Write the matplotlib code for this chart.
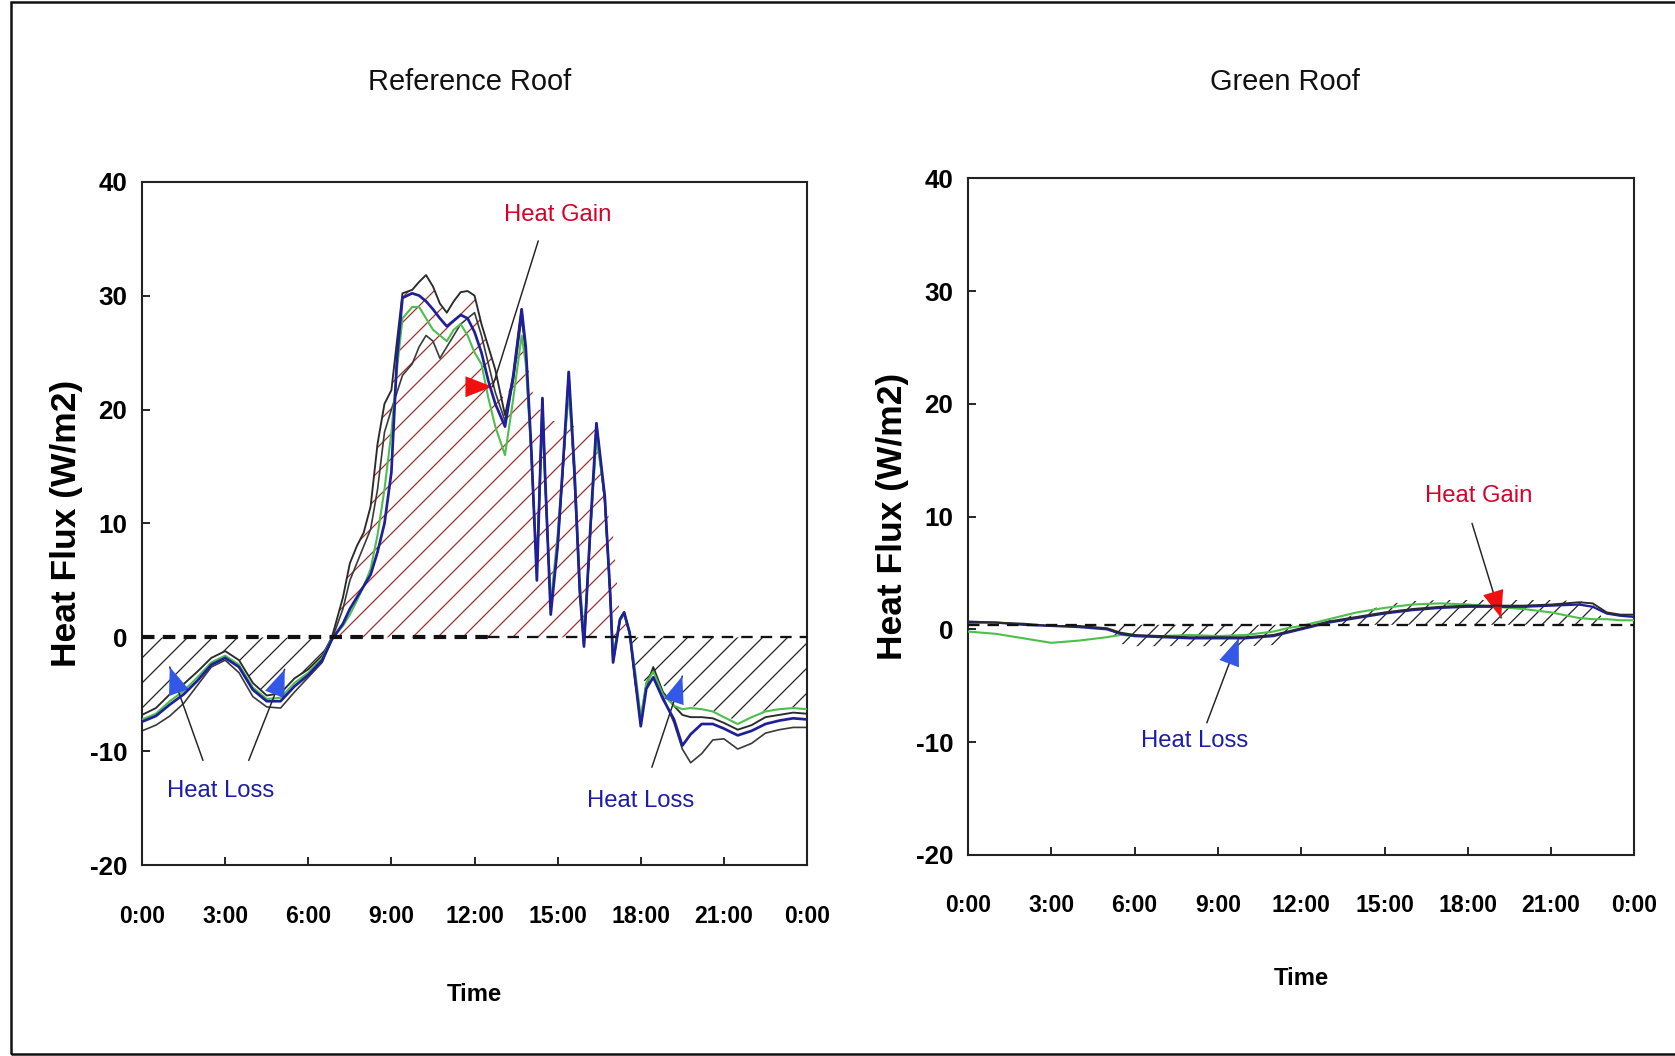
import numpy as np
import matplotlib
matplotlib.use('Agg')
import matplotlib.pyplot as plt
from matplotlib import font_manager
from matplotlib.patches import Rectangle

# ---- reference roof (left) ----
t_ref = [0, 0.5, 1, 1.5, 2, 2.5, 3, 3.5, 4, 4.5, 5, 5.5, 6, 6.5, 6.85,
         7.25, 7.5, 7.75, 8, 8.25, 8.5, 8.75, 9, 9.2, 9.4,
         9.75, 10, 10.25, 10.5, 10.75, 11, 11.25, 11.5, 11.75, 12,
         12.25, 12.5, 12.75, 13.1, 13.4, 13.7, 13.85, 14.05, 14.25, 14.45,
         14.55, 14.75, 15.0, 15.2, 15.4, 15.6, 15.8, 15.95, 16.2, 16.4,
         16.7, 16.9, 17.0, 17.25, 17.4, 17.6, 17.8, 18.0, 18.2, 18.45,
         18.8, 19.2, 19.5, 19.8, 20.2, 20.6, 21.0, 21.5, 22.0, 22.5,
         23.0, 23.5, 24]

ref_black_hi = [-6.8, -6.2, -5.0, -4.1, -3.0, -1.8, -1.2, -2.0, -4.0, -5.1, -4.9, -3.6, -2.8, -1.6, 0.0,
                3.5, 6.5, 8.0, 9.2, 11.5, 17.0, 20.5, 21.7, 26.0, 30.2,
                30.5, 31.2, 31.8, 30.8, 29.3, 28.5, 29.5, 30.3, 30.4, 30.0,
                27.5, 25.5, 23.5, 19.5, 23.0, 28.8, 25.0, 16.0, 6.0, 21.0,
                14.0, 2.5, 8.0, 15.0, 23.3, 14.0, 4.0, -0.8, 10.0, 18.8,
                12.0, 3.5, -2.2, 1.6, 2.2, 0.4, -3.7, -7.6, -4.3, -2.6,
                -4.8, -6.0, -6.8, -7.0, -7.0, -7.1, -7.5, -8.1, -7.7, -7.0,
                -6.8, -6.6, -6.7]

ref_blue = [-7.4, -6.9, -5.9, -5.0, -3.8, -2.4, -1.8, -2.6, -4.6, -5.6, -5.6, -4.3, -3.3, -2.0, -0.2,
            1.2, 2.5, 3.5, 4.5, 5.5, 7.5, 10.0, 14.5, 24.5, 29.8,
            30.2, 30.0, 29.5, 28.8, 28.0, 27.3, 27.8, 28.3, 28.0, 26.8,
            25.0, 22.5, 20.5, 18.5, 23.0, 28.8, 25.5, 16.5, 5.0, 21.0,
            14.0, 2.0, 8.0, 15.5, 23.3, 15.0, 4.0, -0.8, 10.5, 18.8,
            12.4, 3.6, -2.2, 1.6, 2.2, 0.4, -3.7, -7.8, -4.5, -3.5,
            -5.4, -7.2, -9.5, -8.5, -7.6, -7.6, -8.0, -8.6, -8.2, -7.6,
            -7.3, -7.1, -7.2]

ref_green = [-7.2, -6.7, -5.6, -4.7, -3.5, -2.2, -1.6, -2.4, -4.4, -5.4, -5.3, -4.0, -3.1, -1.8, -0.1,
             1.0, 2.0, 3.2, 4.5, 6.0, 9.0, 13.0, 18.0, 23.5, 28.0,
             29.0, 29.0, 28.0, 27.0, 26.5, 26.0, 27.0, 27.5, 26.5, 25.0,
             24.0, 21.0, 18.5, 16.0, 21.0, 26.5, 24.0, 16.0, 6.0, 19.5,
             13.5, 3.0, 9.0, 15.5, 21.5, 15.0, 5.0, 0.0, 10.0, 17.5,
             12.5, 4.0, -1.5, 1.5, 2.0, 0.5, -3.0, -7.0, -4.0, -3.0,
             -5.0, -6.0, -6.3, -6.2, -6.3, -6.5, -7.0, -7.6, -7.0, -6.5,
             -6.3, -6.2, -6.3]

ref_black_lo = [-8.2, -7.7, -6.9, -5.8, -4.2, -2.6, -2.0, -3.1, -5.2, -6.1, -6.2, -4.8, -3.5, -2.2, -0.2,
                2.5, 5.0, 6.5, 8.0, 9.5, 13.0, 18.0, 20.0, 21.5, 23.0,
                24.0, 25.5, 26.5, 26.0, 24.5, 25.5, 26.5, 27.5, 28.0, 28.5,
                26.5, 24.0, 21.5, 19.0, 22.5, 28.0, 25.0, 16.0, 5.5, 20.5,
                13.5, 2.5, 8.5, 15.0, 22.5, 14.5, 4.5, -0.5, 10.0, 18.0,
                12.0, 3.5, -2.0, 1.5, 2.0, 0.3, -4.0, -7.2, -4.0, -2.8,
                -5.2, -7.5, -9.8, -11.0, -10.2, -9.0, -8.9, -9.8, -9.3, -8.4,
                -8.1, -7.9, -7.9]

# extent of the hatched gain / loss areas
ref_shade = [-6.8, -6.2, -5.0, -4.1, -3.0, -1.8, -1.2, -2.0, -4.0, -5.1, -4.9, -3.6, -2.8, -1.6, 0.0,
             3.5, 6.5, 8.0, 9.2, 11.5, 17.0, 20.5, 21.7, 26.0, 30.2,
             30.5, 31.2, 31.8, 30.8, 29.3, 28.5, 29.5, 30.3, 30.4, 30.0,
             27.5, 25.5, 23.5, 20.5, 23.0, 27.0, 25.0, 22.0, 20.0, 20.0,
             19.5, 19.0, 19.0, 19.0, 19.0, 18.5, 18.0, 18.0, 18.0, 18.5,
             13.0, 9.5, 9.0, 1.6, 2.2, 0.4, -2.5, -3.5, -4.0, -2.6,
             -4.2, -5.0, -5.8, -6.0, -6.2, -6.4, -6.8, -7.4, -7.0, -6.4,
             -6.2, -6.1, -6.2]

# ---- green roof (right) ----
t_grn = [0, 1, 2, 3, 4, 5, 5.5, 6, 7, 8, 9, 10, 11, 11.5, 12, 12.5, 13, 14, 15, 16,
         17, 18, 19, 20, 21, 22, 22.5, 23, 23.5, 24]
grn_black = [0.7, 0.6, 0.5, 0.3, 0.3, 0.1, -0.3, -0.5, -0.6, -0.7, -0.7, -0.7, -0.5, -0.2, 0.1,
             0.4, 0.7, 1.1, 1.5, 1.8, 2.0, 2.1, 2.1, 2.1, 2.2, 2.4, 2.3, 1.5, 1.3, 1.3]
grn_blue = [0.6, 0.6, 0.4, 0.3, 0.2, 0.0, -0.4, -0.6, -0.7, -0.8, -0.8, -0.8, -0.6, -0.3, 0.0,
            0.3, 0.6, 1.0, 1.4, 1.7, 1.9, 2.0, 2.0, 2.0, 2.1, 2.2, 2.0, 1.4, 1.2, 1.1]
grn_green = [-0.2, -0.4, -0.8, -1.2, -1.0, -0.7, -0.5, -0.6, -0.6, -0.5, -0.6, -0.5, -0.2, 0.1, 0.3,
             0.6, 0.9, 1.5, 1.9, 2.2, 2.3, 2.2, 2.0, 1.8, 1.5, 1.0, 0.9, 0.9, 0.8, 0.8]
grn_shade = [0.4, 0.4, 0.4, 0.4, 0.4, 0.4, -1.3, -1.5, -1.5, -1.5, -1.5, -1.5, -1.4, -0.3, 0.4,
             0.5, 0.8, 1.3, 2.2, 2.5, 2.6, 2.6, 2.6, 2.6, 2.6, 2.5, 2.3, 0.4, 0.4, 0.4]

ref_zero = 0.0
grn_zero = 0.4
ref_zero_split = [0, 12.5, 24]

hour_ticks = [0, 3, 6, 9, 12, 15, 18, 21, 24]
hour_labels = ['0:00', '3:00', '6:00', '9:00', '12:00', '15:00', '18:00', '21:00', '0:00']
flux_ticks = [-20, -10, 0, 10, 20, 30, 40]

# annotations: (hour, flux)
ref_loss_tips = [(1.0, -2.6), (5.15, -2.8), (19.5, -3.4)]
ref_loss_tails = [(2.2, -10.8), (3.85, -10.8), (18.4, -11.4)]
ref_loss_text = [(2.85, -13.5), (18.0, -14.4)]
ref_gain_tip = (12.65, 22.0)
ref_gain_head_from = (11.6, 22.0)
ref_gain_tail = (14.3, 34.8)
ref_gain_text = (15.0, 37.1)

grn_loss_tip = (9.75, -0.8)
grn_loss_tail = (8.6, -8.3)
grn_loss_text = (8.15, -9.9)
grn_gain_tip = (19.2, 1.0)
grn_gain_tail = (18.15, 9.4)
grn_gain_text = (18.4, 11.8)

# ---- fonts ----
names = {f.name for f in font_manager.fontManager.ttflist}
if 'Liberation Sans Narrow' in names:
    cond, k = 'Liberation Sans Narrow', 1.0
else:
    cond, k = 'Liberation Sans', 0.82
plain = 'Liberation Sans' if 'Liberation Sans' in names else 'DejaVu Sans'

plt.rcParams['hatch.linewidth'] = 0.6

RED_TXT = '#d8002a'
BLUE_TXT = '#1c1ca8'
HEAD_BLUE = '#3358e8'
HEAD_RED = '#f01010'

fig = plt.figure(figsize=(1675 / 150, 1056 / 150), dpi=150)
ax1 = fig.add_axes([0.0848, 0.1806, 0.397, 0.6474])
ax2 = fig.add_axes([0.5779, 0.1906, 0.3979, 0.6404])


def setup(ax, title, tx, ty, ylx, xly):
    ax.set_xlim(0, 24)
    ax.set_ylim(-20, 40)
    ax.set_xticks(hour_ticks)
    ax.set_xticklabels(hour_labels, fontfamily=cond, fontsize=13.5 * k, fontweight='bold')
    ax.set_yticks(flux_ticks)
    ax.set_yticklabels([str(v) for v in flux_ticks], fontfamily=plain, fontsize=12.5,
                       fontweight='bold')
    ax.tick_params(direction='in', length=4, width=0.8, top=False, right=False)
    ax.tick_params(axis='x', pad=19)
    ax.tick_params(axis='y', pad=7)
    for s in ax.spines.values():
        s.set_linewidth(1.0)
        s.set_color('#222222')
    ax.set_ylabel('Heat Flux (W/m2)', fontfamily=plain, fontsize=17, fontweight='bold',
                  va='center')
    ax.yaxis.set_label_coords(ylx, 0.5)
    ax.set_xlabel('Time', fontfamily=cond, fontsize=14 * k, fontweight='bold', va='center')
    ax.xaxis.set_label_coords(0.5, xly)
    ax.text(tx, ty, title, transform=ax.transAxes, ha='center', va='center',
            fontfamily=cond, fontsize=17 * k, color='#111111')


def arrow(ax, tail, tip, head_color, head_from=None):
    ax.annotate('', xy=tip, xytext=tail,
                arrowprops=dict(arrowstyle='-', color='#222222', lw=0.7, shrinkA=0, shrinkB=0))
    ax.annotate('', xy=tip, xytext=head_from if head_from else tail,
                arrowprops=dict(arrowstyle='-|>,head_length=1.3,head_width=0.5',
                                color=head_color, lw=0, shrinkA=0, shrinkB=0))


# left panel
t = np.array(t_ref)
shade = np.array(ref_shade)
ax1.fill_between(t, ref_zero, shade, where=shade >= ref_zero, interpolate=True,
                 facecolor='none', edgecolor='#a23030', hatch='//', linewidth=0, zorder=1)
ax1.fill_between(t, ref_zero, shade, where=shade <= ref_zero, interpolate=True,
                 facecolor='none', edgecolor='#222222', hatch='//', linewidth=0, zorder=1)
ax1.plot(t, ref_black_lo, color='#3a3a3a', lw=0.8, zorder=2)
ax1.plot(t, ref_black_hi, color='#2a2a2a', lw=0.9, zorder=2)
ax1.plot(t, ref_green, color='#4cbf4c', lw=1.0, zorder=3)
ax1.plot(t, ref_blue, color='#1f1f9a', lw=1.3, zorder=4)
ax1.hlines(ref_zero, ref_zero_split[0], ref_zero_split[1], colors='#111111', lw=2.0,
           linestyles=(0, (3, 2)), zorder=5)
ax1.hlines(ref_zero, ref_zero_split[1], ref_zero_split[2], colors='#111111', lw=1.1,
           linestyles=(0, (5, 3.5)), zorder=5)

for tail, tip in zip(ref_loss_tails, ref_loss_tips):
    arrow(ax1, tail, tip, HEAD_BLUE)
arrow(ax1, ref_gain_tail, ref_gain_tip, HEAD_RED, ref_gain_head_from)
for pos in ref_loss_text:
    ax1.text(pos[0], pos[1], 'Heat Loss', ha='center', va='center', fontfamily=cond,
             fontsize=14 * k, color=BLUE_TXT)
ax1.text(ref_gain_text[0], ref_gain_text[1], 'Heat Gain', ha='center', va='center',
         fontfamily=cond, fontsize=14 * k, color=RED_TXT)
setup(ax1, 'Reference Roof', 0.493, 1.146, -0.114, -0.189)

# right panel
tg = np.array(t_grn)
gshade = np.array(grn_shade)
ax2.fill_between(tg, grn_zero, gshade, where=gshade >= grn_zero, interpolate=True,
                 facecolor='none', edgecolor='#222222', hatch='///', linewidth=0, zorder=1)
ax2.fill_between(tg, grn_zero, gshade, where=gshade <= grn_zero, interpolate=True,
                 facecolor='none', edgecolor='#222222', hatch='///', linewidth=0, zorder=1)
ax2.plot(tg, grn_green, color='#4cbf4c', lw=1.0, zorder=3)
ax2.plot(tg, grn_blue, color='#1f1f9a', lw=1.1, zorder=3)
ax2.plot(tg, grn_black, color='#2a2a2a', lw=0.9, zorder=4)
ax2.axhline(grn_zero, color='#111111', lw=1.1, ls=(0, (5, 3.5)), zorder=5)
arrow(ax2, grn_loss_tail, grn_loss_tip, HEAD_BLUE)
arrow(ax2, grn_gain_tail, grn_gain_tip, HEAD_RED)
ax2.text(grn_loss_text[0], grn_loss_text[1], 'Heat Loss', ha='center', va='center',
         fontfamily=cond, fontsize=14 * k, color=BLUE_TXT)
ax2.text(grn_gain_text[0], grn_gain_text[1], 'Heat Gain', ha='center', va='center',
         fontfamily=cond, fontsize=14 * k, color=RED_TXT)
setup(ax2, 'Green Roof', 0.476, 1.142, -0.114, -0.183)

# outer frame of the picture
fig.add_artist(Rectangle((0.0066, 0.002), 1.0, 0.996, transform=fig.transFigure,
                         fill=False, lw=1.2, edgecolor='#111111'))

fig.savefig('out.png', dpi=150, facecolor='white')
